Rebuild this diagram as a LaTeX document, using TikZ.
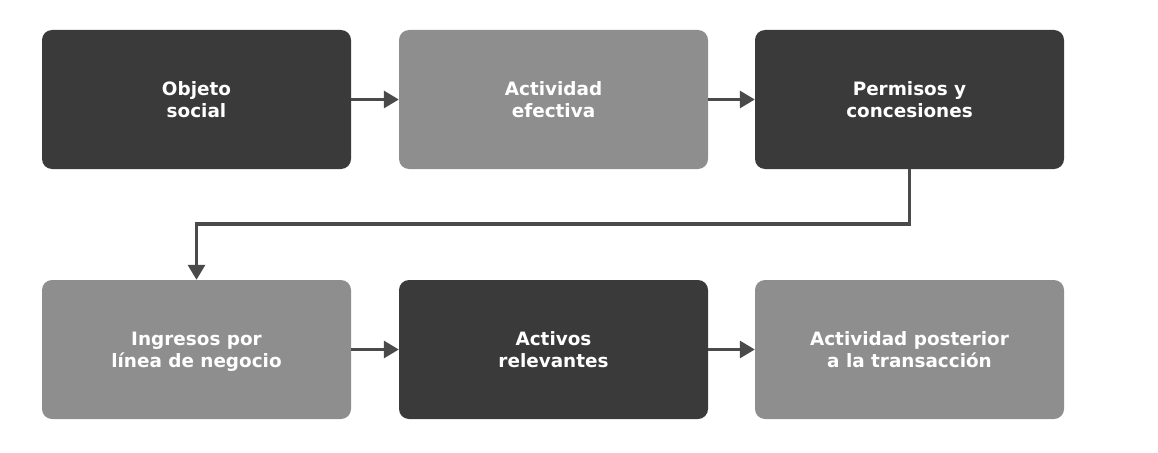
\documentclass[tikz,border=0pt]{standalone}
\usepackage{fontspec}
\setmainfont{DejaVu Sans}
\usetikzlibrary{arrows.meta}
\definecolor{darkbox}{HTML}{3A3A3A}
\definecolor{lightbox}{HTML}{8E8E8E}
\definecolor{arrowcol}{HTML}{4A4A4A}
\newcommand{\ls}{\vphantom{Ay}}
\newcommand{\lt}{\rule{0pt}{18pt}}
\begin{document}
\begin{tikzpicture}[x=1pt,y=-1pt,
  box/.style={rounded corners=10pt, minimum width=309pt, minimum height=139pt, inner sep=0pt,
    text=white, align=center, font=\fontsize{18.4}{22}\selectfont\bfseries},
  dbox/.style={box, fill=darkbox},
  lbox/.style={box, fill=lightbox},
  conn/.style={draw=arrowcol, line width=3.2pt, -{Triangle[length=15pt,width=17pt]}}]
\useasboundingbox (0,0) rectangle (1158,452);
\node[dbox] (a) at (196.5,99.5) {\lt Objeto\\social\ls};
\node[lbox] (b) at (553.5,99.5) {\lt Actividad\\efectiva\ls};
\node[dbox] (c) at (909.5,99.5) {\lt Permisos y\\concesiones\ls};
\node[lbox] (d) at (196.5,349.5) {\lt Ingresos por\\\smash{l\'{\i}}nea de negocio\ls};
\node[dbox] (e) at (553.5,349.5) {\lt Activos\\relevantes\ls};
\node[lbox] (f) at (909.5,349.5) {\lt Actividad posterior\\a la transacción\ls};
\draw[conn] (a.east) -- (b.west);
\draw[conn] (b.east) -- (c.west);
\draw[conn] (d.east) -- (e.west);
\draw[conn] (e.east) -- (f.west);
\coordinate (m) at (0,224);
\draw[conn] (c.south) |- (m -| d.north) -- (d.north);
\end{tikzpicture}
\end{document}
